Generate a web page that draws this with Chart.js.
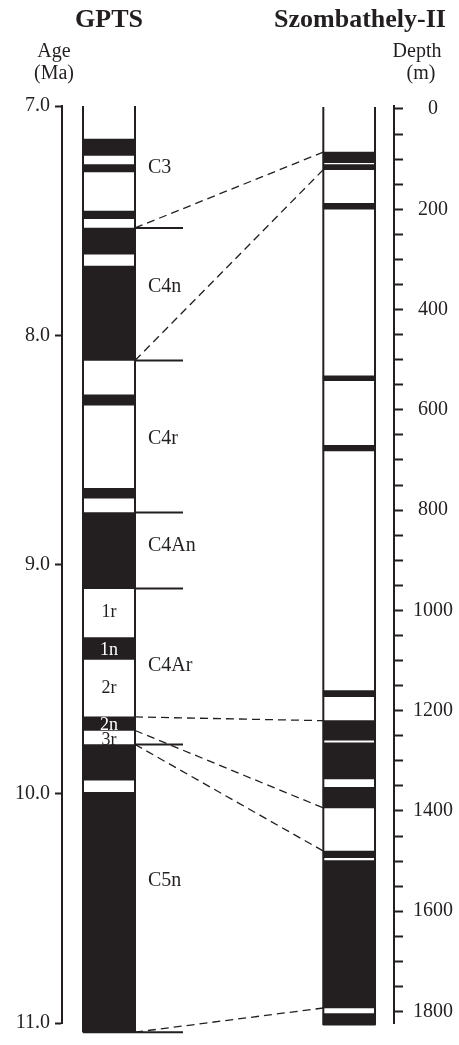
<!DOCTYPE html>
<html>
<head>
<meta charset="utf-8">
<title>GPTS – Szombathely-II</title>
<script src="https://cdn.jsdelivr.net/npm/chart.js@4.4.1/dist/chart.umd.min.js"></script>
<style>
  html, body { margin: 0; padding: 0; background: #ffffff; }
  canvas { display: block; }
</style>
</head>
<body>
<canvas id="chart" width="459" height="1045"></canvas>
<script>
// ---- GPTS (age in Ma) ----
// normal-polarity chrons, drawn black: [younger, older]
const gptsNormal = [
  [7.144, 7.216], [7.256, 7.288], [7.458, 7.492], [7.532, 7.646],
  [7.698, 8.110], [8.260, 8.305], [8.668, 8.711], [8.773, 9.105],
  [9.319, 9.414], [9.665, 9.724], [9.785, 9.941], [9.994, 11.040]
];
const gptsSpan = [7.0, 11.040];
const chronBoundaries = [7.532, 8.110, 8.773, 9.105, 9.785, 11.040];
const chronNames = ['C3', 'C4n', 'C4r', 'C4An', 'C4Ar', 'C5n'];
const chronLabelAges = [7.27, 7.79, 8.45, 8.92, 9.44, 10.38];
const subchronNames = ['1r', '1n', '2r', '2n', '3r'];
const subchronAges = [9.207, 9.374, 9.538, 9.703, 9.766];

// ---- Szombathely-II borehole (depth in m) ----
// normal-polarity zones, drawn black: [top, bottom]
const boreNormal = [
  [86, 107], [111, 121], [188, 200], [532, 542], [671, 682],
  [1160, 1172], [1220, 1259], [1264, 1336], [1353, 1394],
  [1480, 1493], [1499, 1793], [1804, 1827]
];
const boreSpan = [-4, 1827];

// ---- correlation tie lines ----
const tieAges   = [7.532, 8.110, 9.665, 9.724, 9.785, 11.040];
const tieDepths = [86, 121, 1220, 1394, 1480, 1793];

// ---- axis ticks ----
const ageTicks = [7, 8, 9, 10, 11];
const depthLabels = [0, 200, 400, 600, 800, 1000, 1200, 1400, 1600, 1800];
const depthMinorStep = 50;

// ---- layout & style ----
const INK = '#231f20';
const SERIF = "'Liberation Serif', 'Times New Roman', Times, serif";
// horizontal positions as fractions of the plot area (between the two axes)
const COL = { gL: 0.0633, gR: 0.2199, sL: 0.7871, sR: 0.9428, tickEnd: 0.3645, label: 0.259 };
const gC = (COL.gL + COL.gR) / 2;
const sC = (COL.sL + COL.sR) / 2;
const COLUMN_PX = 52;

const depthTicks = [];
for (let d = depthLabels[0]; d <= depthLabels[depthLabels.length - 1]; d += depthMinorStep) depthTicks.push(d);

function frame(xl, xr, span) {
  return [
    { x: xl, y: span[0] }, { x: xl, y: span[1] }, { x: xl, y: null },
    { x: xr, y: span[0] }, { x: xr, y: span[1] }, { x: xr, y: null },
    { x: xl, y: span[1] }, { x: xr, y: span[1] }
  ];
}

const lineStyle = {
  type: 'line', xAxisID: 'x', borderColor: INK, borderWidth: 2,
  pointRadius: 0, pointHoverRadius: 0, spanGaps: false, tension: 0, fill: false, clip: false
};

const barStyle = {
  type: 'bar', xAxisID: 'x', backgroundColor: INK, borderWidth: 0,
  grouped: false, barThickness: COLUMN_PX, maxBarThickness: COLUMN_PX, clip: false
};

const datasets = [
  Object.assign({ label: 'GPTS frame', yAxisID: 'age', data: frame(COL.gL, COL.gR, gptsSpan) }, lineStyle),
  Object.assign({ label: 'Szombathely-II frame', yAxisID: 'depth', data: frame(COL.sL, COL.sR, boreSpan).slice(0, 6) }, lineStyle),
  Object.assign({ label: 'Chron boundaries', yAxisID: 'age',
    data: chronBoundaries.flatMap(a => [{ x: COL.gR, y: a }, { x: COL.tickEnd, y: a }, { x: COL.tickEnd, y: null }]) }, lineStyle),
  Object.assign({ label: 'GPTS normal', yAxisID: 'age',
    data: gptsNormal.map(([a, b]) => ({ x: gC, y: [a, b] })) }, barStyle),
  Object.assign({ label: 'Szombathely-II normal', yAxisID: 'depth',
    data: boreNormal.map(([a, b]) => ({ x: sC, y: [a, b] })) }, barStyle)
];

// dashed correlation lines between the two columns
const tiePlugin = {
  id: 'ties',
  afterDatasetsDraw(chart) {
    const { ctx } = chart;
    const xs = chart.scales.x, as = chart.scales.age, ds = chart.scales.depth;
    ctx.save();
    ctx.strokeStyle = INK;
    ctx.lineWidth = 1.3;
    ctx.setLineDash([8, 5]);
    tieAges.forEach((a, i) => {
      ctx.beginPath();
      ctx.moveTo(xs.getPixelForValue(COL.gR), as.getPixelForValue(a));
      ctx.lineTo(xs.getPixelForValue(COL.sL), ds.getPixelForValue(tieDepths[i]));
      ctx.stroke();
    });
    ctx.restore();
  }
};

// column titles, axis captions and chron names
const textPlugin = {
  id: 'texts',
  afterDraw(chart) {
    const { ctx } = chart;
    const xs = chart.scales.x, as = chart.scales.age;
    ctx.save();
    ctx.fillStyle = INK;
    ctx.textAlign = 'center';
    ctx.textBaseline = 'alphabetic';
    ctx.font = 'bold 26px ' + SERIF;
    ctx.fillText('GPTS', xs.getPixelForValue(gC), 27);
    ctx.fillText('Szombathely-II', 360, 27);

    ctx.font = '20px ' + SERIF;
    ctx.fillText('Age', 54, 57);
    ctx.fillText('(Ma)', 54, 79);
    ctx.fillText('Depth', 417, 57);
    ctx.fillText('(m)', 421, 79);

    ctx.textAlign = 'left';
    ctx.textBaseline = 'middle';
    ctx.font = '20px ' + SERIF;
    chronNames.forEach((n, i) => {
      ctx.fillText(n, xs.getPixelForValue(COL.label), as.getPixelForValue(chronLabelAges[i]));
    });

    ctx.textAlign = 'center';
    ctx.font = '18px ' + SERIF;
    subchronNames.forEach((n, i) => {
      ctx.fillStyle = n.endsWith('n') ? '#ffffff' : INK;
      ctx.fillText(n, xs.getPixelForValue(gC), as.getPixelForValue(subchronAges[i]));
    });
    ctx.restore();
  }
};

new Chart(document.getElementById('chart'), {
  type: 'line',
  data: { datasets },
  options: {
    responsive: false,
    animation: false,
    devicePixelRatio: 1,
    layout: { padding: { top: 106, bottom: 14, left: 0, right: 0 } },
    plugins: { legend: { display: false }, tooltip: { enabled: false } },
    events: [],
    scales: {
      x: { type: 'linear', min: 0, max: 1, display: false, offset: false },
      age: {
        type: 'linear', position: 'left', reverse: true, min: 7, max: 11,
        afterFit(s) { s.width = 62; },
        afterBuildTicks(s) { s.ticks = ageTicks.map(v => ({ value: v })); },
        ticks: {
          callback: v => Number(v).toFixed(1),
          font: { family: SERIF, size: 20 }, color: INK, padding: 5, autoSkip: false
        },
        grid: { drawOnChartArea: false, drawTicks: true, tickLength: 7, tickWidth: 2, tickColor: INK },
        border: { display: true, color: INK, width: 2 }
      },
      depth: {
        type: 'linear', position: 'right', reverse: true, min: -5.93, max: 1822.9,
        afterFit(s) { s.width = 65; },
        afterBuildTicks(s) { s.ticks = depthTicks.map(v => ({ value: v })); },
        ticks: {
          callback: v => depthLabels.includes(v) ? String(v) : '',
          font: { family: SERIF, size: 20 }, color: INK, padding: 10,
          crossAlign: 'center', autoSkip: false
        },
        grid: { drawOnChartArea: false, drawTicks: true, tickLength: 9, tickWidth: 2, tickColor: INK },
        border: { display: true, color: INK, width: 2 }
      }
    }
  },
  plugins: [tiePlugin, textPlugin]
});
</script>
</body>
</html>
